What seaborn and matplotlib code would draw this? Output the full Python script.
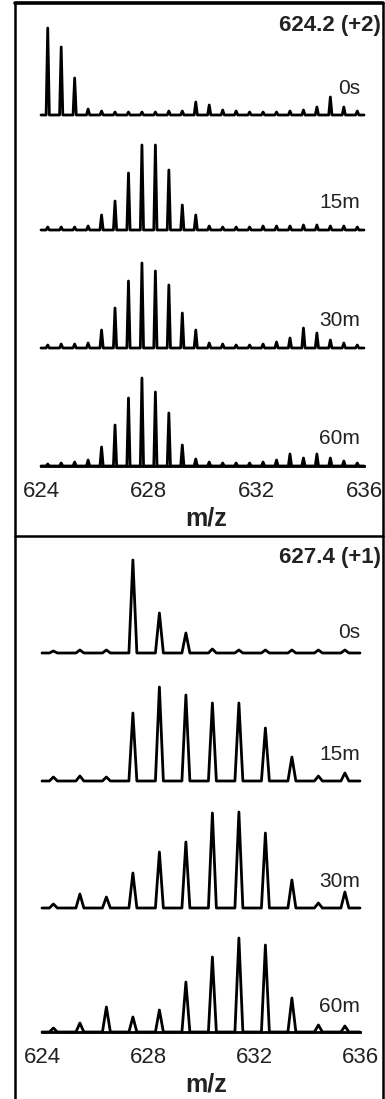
import numpy as np
import pandas as pd
import matplotlib
matplotlib.use("Agg")
import matplotlib.pyplot as plt
from matplotlib.lines import Line2D
import seaborn as sns

# ---------------- data ----------------
# Top panel: 624.2 (+2), isotope grid every 0.5 m/z
top_mz = [624.25, 624.75, 625.25, 625.75, 626.25, 626.75, 627.25, 627.75,
          628.25, 628.75, 629.25, 629.75, 630.25, 630.75, 631.25, 631.75,
          632.25, 632.75, 633.25, 633.75, 634.25, 634.75, 635.25, 635.75]
top_0s = [87, 68, 37, 6, 4, 3, 3, 3, 3, 4, 4, 13, 10, 5, 4, 3, 3, 3, 4, 5, 8, 18, 8, 4]
top_15m = [3, 3, 3, 4, 15, 29, 57, 85, 85, 60, 25, 15, 4, 3, 3, 3, 4, 4, 4, 5, 5, 4, 4, 3]
top_30m = [3, 4, 4, 5, 18, 40, 67, 85, 77, 63, 35, 18, 5, 4, 3, 3, 4, 6, 10, 20, 15, 8, 5, 3]
top_60m = [2, 3, 4, 6, 19, 41, 68, 88, 74, 53, 21, 7, 4, 3, 3, 3, 4, 6, 12, 8, 12, 8, 5, 3]

# Bottom panel: 627.4 (+1), isotope grid every 1.0 m/z
bot_mz = [624.43, 625.43, 626.43, 627.43, 628.43, 629.43, 630.43, 631.43,
          632.43, 633.43, 634.43, 635.43]
bot_0s = [2, 3, 3, 93, 40, 20, 4, 3, 3, 3, 3, 3]
bot_15m = [4, 5, 4, 68, 94, 86, 78, 78, 53, 24, 5, 8]
bot_30m = [4, 14, 11, 35, 56, 66, 95, 96, 75, 28, 5, 16]
bot_60m = [4, 9, 25, 15, 22, 50, 75, 94, 87, 34, 7, 6]

time_labels = ["0s", "15m", "30m", "60m"]
panel_titles = ["624.2 (+2)", "627.4 (+1)"]
x_ticks = [624, 628, 632, 636]

# ---------------- style ----------------
sns.set_theme(style="white")
plt.rcParams["font.family"] = ["Liberation Sans", "DejaVu Sans"]

W, H = 385, 1099
fig = plt.figure(figsize=(W / 100, H / 100), dpi=100)


def fx(px):
    return px / W


def fy(py):
    return 1 - py / H


def trace_frame(mz, inten, hw, offset, label):
    xs, ys = [624.0], [0.0]
    for c, h in zip(mz, inten):
        xs += [c - hw, c, c + hw]
        ys += [0.0, h, 0.0]
    xs.append(636.0)
    ys.append(0.0)
    return pd.DataFrame({"mz": xs, "intensity": np.array(ys) + offset,
                         "trace": label, "order": range(len(xs))})


def draw_panel(rect, mz, traces, offsets, hw, label_dy, label_x, ylim):
    ax = fig.add_axes(rect)
    ax.set_facecolor("none")
    for lab, inten, off in zip(time_labels, traces, offsets):
        df = trace_frame(mz, inten, hw, off, lab)
        sns.lineplot(data=df, x="mz", y="intensity", sort=False, estimator=None,
                     color="black", lw=2.0, ax=ax, legend=False, clip_on=False)
        ax.text(label_x, off + label_dy[lab], lab, ha="right", va="center",
                fontsize=15, color="#222222")
    ax.set_xlim(624, 636)
    ax.set_ylim(*ylim)
    for s in ["left", "top", "right"]:
        ax.spines[s].set_visible(False)
    ax.spines["bottom"].set_position(("data", 0))
    ax.spines["bottom"].set_linewidth(2.0)
    ax.spines["bottom"].set_color("black")
    ax.set_yticks([])
    ax.set_xticks(x_ticks)
    ax.set_xticklabels([str(t) for t in x_ticks])
    ax.tick_params(axis="x", direction="out", length=5, width=1.6,
                   labelsize=16, pad=6, colors="black", labelcolor="#222222")
    ax.set_xlabel("")
    ax.set_ylabel("")
    return ax


# top panel: 624 -> 41px, 636 -> 364px; baseline of last trace at 466px
draw_panel([fx(41), fy(476), (364 - 41) / W, 470 / H], top_mz,
           [top_0s, top_15m, top_30m, top_60m], [351, 236, 118, 0], 0.06,
           {"0s": 27, "15m": 28, "30m": 28, "60m": 28}, 635.85, (-10, 460))

# bottom panel: 624 -> 42px, 636 -> 360px; baseline of last trace at 1032px
draw_panel([fx(42), fy(1042), (360 - 42) / W, 490 / H], bot_mz,
           [bot_0s, bot_15m, bot_30m, bot_60m], [379, 251, 124, 0], 0.15,
           {"0s": 20, "15m": 26, "30m": 26, "60m": 25}, 636.0, (-10, 480))

# titles and axis labels
fig.text(fx(381), fy(26), panel_titles[0], ha="right", va="center",
         fontsize=16, fontweight="bold", color="#222222")
fig.text(fx(381), fy(558), panel_titles[1], ha="right", va="center",
         fontsize=16, fontweight="bold", color="#222222")
fig.text(fx(206), fy(518), "m/z", ha="center", va="center",
         fontsize=18, fontweight="bold", color="#222222")
fig.text(fx(206), fy(1085), "m/z", ha="center", va="center",
         fontsize=18, fontweight="bold", color="#222222")

# frame
frame_kw = dict(color="black", lw=1.8, transform=fig.transFigure)
fig.add_artist(Line2D([fx(15), fx(15)], [fy(3), fy(1099)], **frame_kw))
fig.add_artist(Line2D([fx(15), fx(383)], [fy(3), fy(3)], color="black", lw=2.6,
                      transform=fig.transFigure))
fig.add_artist(Line2D([fx(383), fx(383)], [fy(3), fy(1099)], **frame_kw))
fig.add_artist(Line2D([fx(15), fx(383)], [fy(536), fy(536)], **frame_kw))

fig.savefig("out.png", dpi=100)
